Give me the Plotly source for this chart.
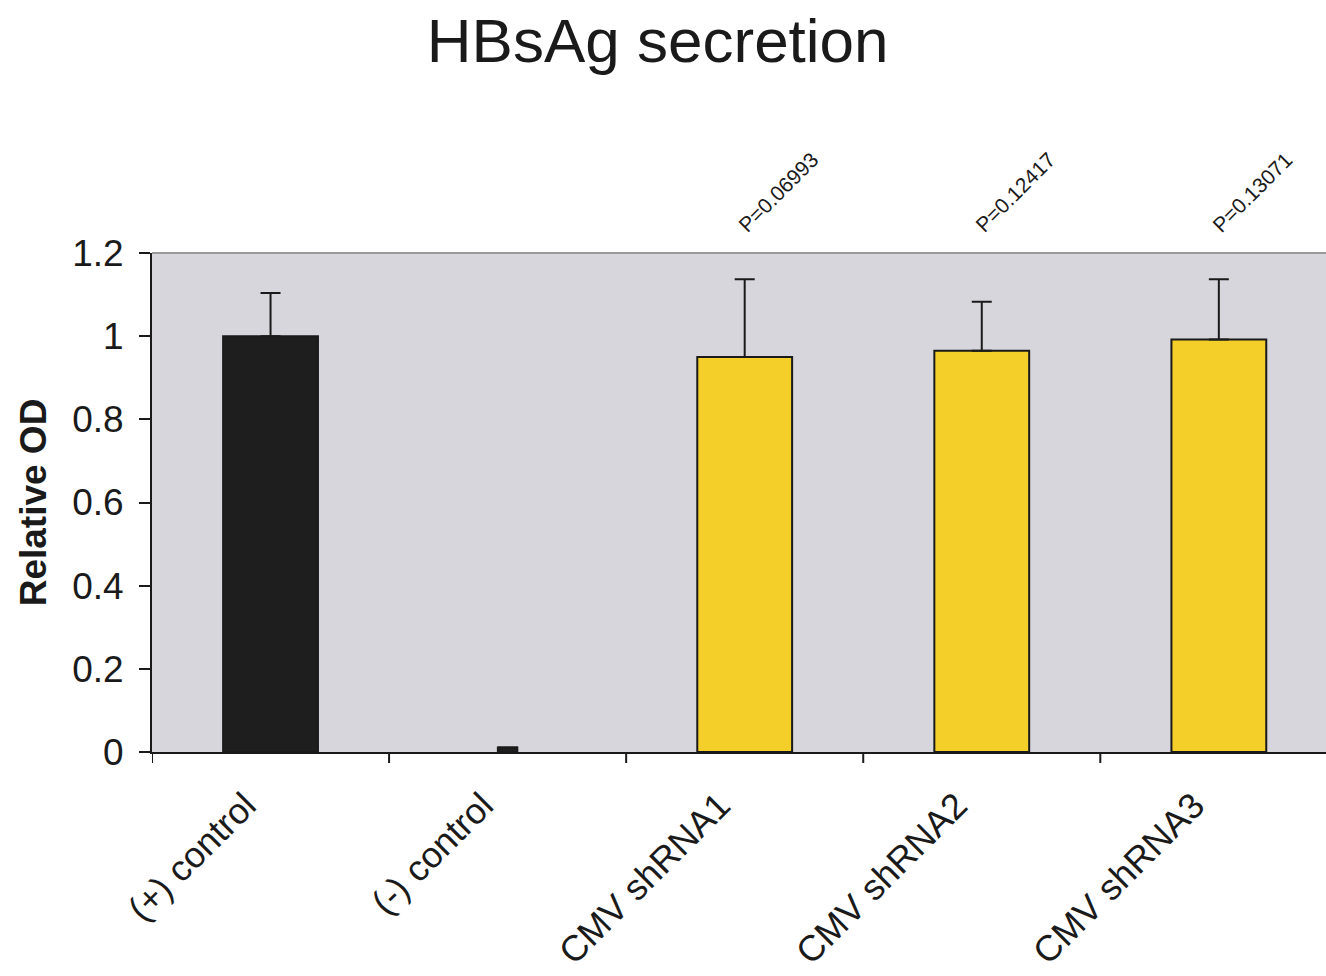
import plotly.graph_objects as go

# Groups, measured relative OD and upper error
categories = ["(+) control", "(-) control", "CMV shRNA1", "CMV shRNA2", "CMV shRNA3"]
relative_od = [1.0, 0.011, 0.950, 0.965, 0.992]
error_up = [0.104, 0.0, 0.187, 0.118, 0.145]
p_values = [None, None, "P=0.06993", "P=0.12417", "P=0.13071"]

bar_colors = ["#1e1e1e", "#1e1e1e", "#f4cf2a", "#f4cf2a", "#f4cf2a"]
bar_widths = [0.4, 0.082, 0.4, 0.4, 0.4]

FONT = "Liberation Sans, Arial, Helvetica, sans-serif"
INK = "#1a1a1a"
Y_MAX = 1.2

fig = go.Figure()
fig.add_trace(go.Bar(
    x=list(range(len(categories))),
    y=relative_od,
    width=bar_widths,
    marker=dict(color=bar_colors, line=dict(color=INK, width=2)),
    error_y=dict(type="data", array=error_up, arrayminus=[0] * len(error_up),
                 symmetric=False, color=INK, thickness=2, width=10),
    showlegend=False,
    hoverinfo="skip",
))

# p-value labels above the shRNA groups (placed above the plotting area)
for i, p in enumerate(p_values):
    if p:
        fig.add_annotation(
            x=i, y=1.122, xref="x", yref="paper", text=p, showarrow=False,
            xanchor="center", yanchor="middle",
            textangle=-45, xshift=33,
            font=dict(family=FONT, size=21, color=INK),
        )

# light grey frame line along the top of the plotting area
fig.add_shape(type="line", xref="paper", yref="paper", x0=0, x1=1, y0=1, y1=1,
              line=dict(color="#9a9a9a", width=2))

fig.update_layout(
    width=1326, height=976,
    margin=dict(l=152, r=0, t=253, b=224),
    paper_bgcolor="white",
    plot_bgcolor="#d6d6dc",
    title=dict(text="HBsAg secretion", x=0.496, xanchor="center",
               y=1 - 40 / 976, yanchor="middle", yref="container",
               font=dict(family=FONT, size=62, color=INK)),
    font=dict(family=FONT, color=INK),
)

fig.update_xaxes(
    range=[-0.5, 4.452],
    tickmode="array", tickvals=list(range(len(categories))), ticktext=categories,
    tickangle=-45, tickfont=dict(family=FONT, size=36, color=INK),
    ticklabelstandoff=16, ticklabelshift=-25,
    showline=True, linecolor=INK, linewidth=2,
    showgrid=False, zeroline=False,
    ticks="", automargin=False,
)

# boundary tick marks between groups
for k in range(len(categories)):
    fig.add_shape(type="line", xref="x", yref="paper", x0=k - 0.5, x1=k - 0.5,
                  y0=0, y1=-11 / 499, line=dict(color=INK, width=2))

fig.update_yaxes(
    range=[0, Y_MAX], dtick=0.2, tick0=0,
    ticks="outside", ticklen=11, tickwidth=2, tickcolor=INK,
    tickfont=dict(family=FONT, size=37, color=INK),
    ticklabelstandoff=8,
    showline=True, linecolor=INK, linewidth=2,
    showgrid=False, zeroline=False, automargin=False,
    title=dict(text="<b>Relative OD</b>", font=dict(family=FONT, size=37, color=INK),
               standoff=14),
)

fig.write_html("out.html")
